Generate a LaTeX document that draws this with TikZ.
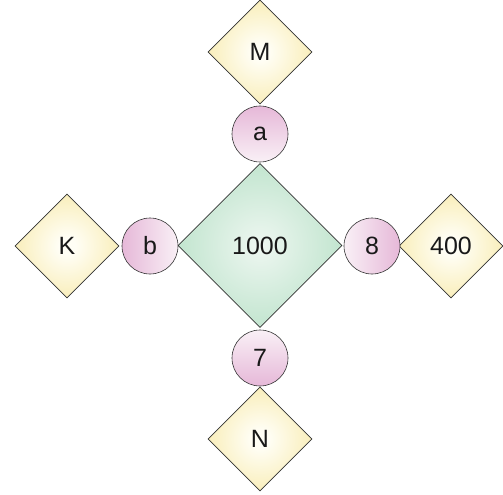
\documentclass[tikz,border=0pt]{standalone}
\usepackage{fontspec}
\setmainfont{Liberation Sans}
\usetikzlibrary{shapes.geometric}
\definecolor{edgec}{HTML}{333333}
\definecolor{greenin}{HTML}{EEF7F1}
\definecolor{greenout}{HTML}{A8DABB}
\definecolor{yellin}{HTML}{FFFEF5}
\definecolor{yellout}{HTML}{F5E392}
\definecolor{pinkdark}{HTML}{E6B8D8}
\definecolor{pinklight}{HTML}{F9F0F6}
\pgfdeclareradialshading{greenrad}{\pgfpoint{0bp}{0bp}}{color(0bp)=(greenin); color(40bp)=(greenout); color(50bp)=(greenout)}
\pgfdeclareradialshading{yellrad}{\pgfpoint{0bp}{0bp}}{color(0bp)=(yellin); color(4bp)=(yellin); color(40bp)=(yellout); color(50bp)=(yellout)}
\tikzset{
  lbl/.style={font=\fontsize{25bp}{30bp}\selectfont, text=black!90},
  bigdia/.style={diamond, draw=edgec, line width=0.6pt, inner sep=0pt, minimum width=164bp, minimum height=164bp, shading=greenrad, lbl},
  smalldia/.style={diamond, draw=edgec, line width=0.6pt, inner sep=0pt, minimum width=104bp, minimum height=104bp, shading=yellrad, lbl},
  ball/.style={circle, draw=edgec, line width=0.6pt, inner sep=0pt, minimum size=56bp, lbl},
}
\begin{document}
\begin{tikzpicture}[x=1bp, y=-1bp]
\useasboundingbox (0,0) rectangle (503,495);
\node[bigdia] (c) at (260,245.5) {1000};
\node[smalldia] (m) at (260,52) {M};
\node[smalldia] (k) at (67,246) {K};
\node[smalldia] (f) at (451,246) {400};
\node[smalldia] (n) at (260,439) {N};
\node[ball, top color=pinkdark, bottom color=pinklight] (a) at (260,134) {a};
\node[ball, left color=pinkdark, right color=pinklight] (b) at (150,246) {b};
\node[ball, left color=pinklight, right color=pinkdark] (e) at (372,246) {8};
\node[ball, top color=pinklight, bottom color=pinkdark] (s) at (260,358) {7};
\end{tikzpicture}
\end{document}
